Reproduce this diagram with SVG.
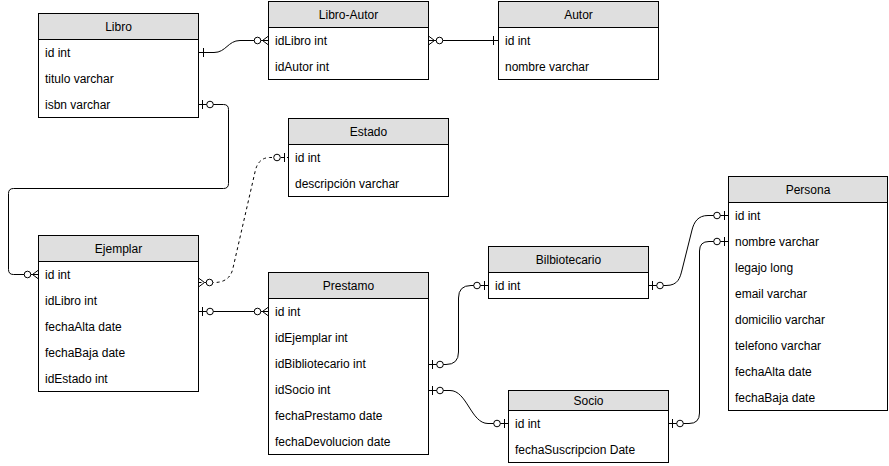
<svg xmlns="http://www.w3.org/2000/svg" width="889" height="466" viewBox="0 0 889 466">
<style>
.box{fill:#fff;stroke:#000;stroke-width:1}
.hdr{fill:#dfdfdf;stroke:#000;stroke-width:1}
.t{font-family:"Liberation Sans",Arial,sans-serif;font-size:12px;fill:#000}
.h{text-anchor:middle}
.c{fill:none;stroke:#000;stroke-width:1}
.d{stroke-dasharray:3 3}
</style>
<defs>
<marker id="zm" markerUnits="userSpaceOnUse" orient="auto-start-reverse" refX="0" refY="0" markerWidth="1" markerHeight="1" overflow="visible">
<path d="M0,-4.5 L-6,0 L0,4.5" fill="none" stroke="#000" stroke-width="1"/>
<circle cx="-11" cy="0" r="3.3" fill="#fff" stroke="#000" stroke-width="1"/>
</marker>
<marker id="zo" markerUnits="userSpaceOnUse" orient="auto-start-reverse" refX="0" refY="0" markerWidth="1" markerHeight="1" overflow="visible">
<path d="M-4,-4.5 V4.5" fill="none" stroke="#000" stroke-width="1"/>
<circle cx="-11.5" cy="0" r="3.3" fill="#fff" stroke="#000" stroke-width="1"/>
</marker>
<marker id="one" markerUnits="userSpaceOnUse" orient="auto-start-reverse" refX="0" refY="0" markerWidth="1" markerHeight="1" overflow="visible">
<path d="M-5,-4.5 V4.5" fill="none" stroke="#000" stroke-width="1"/>
</marker>
</defs>

<g id="connectors">
<path class="c" d="M198.5,52.5 H214 C226,52.5 228,40.5 240,40.5 H268.5" marker-start="url(#one)" marker-end="url(#zm)"/>
<path class="c" d="M428.5,40.5 H498.5" marker-start="url(#zm)" marker-end="url(#one)"/>
<path class="c" d="M198.5,104.5 H223.5 Q228.5,104.5 228.5,109.5 V183.5 Q228.5,188.5 223.5,188.5 H13.5 Q8.5,188.5 8.5,193.5 V269.5 Q8.5,274.5 13.5,274.5 H38.5" marker-start="url(#zo)" marker-end="url(#zm)"/>
<path class="c d" d="M198.5,282.5 H214 Q230,282.5 233,268 L255,172 Q258,157.5 270,157.5 H288.5" marker-start="url(#zm)" marker-end="url(#zo)"/>
<path class="c" d="M198.5,311.5 H268.5" marker-start="url(#zo)" marker-end="url(#zm)"/>
<path class="c" d="M428.5,364.5 H446 Q458.5,364.5 458.5,352 V298 Q458.5,285.5 471,285.5 H488.5" marker-start="url(#zo)" marker-end="url(#zo)"/>
<path class="c" d="M428.5,390.5 H450 C467,390.5 471,423.5 488,423.5 H508.5" marker-start="url(#zo)" marker-end="url(#zo)"/>
<path class="c" d="M648.5,285.5 H666 C678,285.5 680,278 682,270 L692,230 C694,222 698,215.5 708,215.5 H728.5" marker-start="url(#zo)" marker-end="url(#zo)"/>
<path class="c" d="M668.5,423.5 H689 Q699.5,423.5 699.5,413 V251 Q699.5,241.5 709,241.5 H728.5" marker-start="url(#zo)" marker-end="url(#zo)"/>
</g>

<g id="libro">
<rect class="box" x="38.5" y="13.5" width="160" height="104"/>
<rect class="hdr" x="38.5" y="13.5" width="160" height="26"/>
<text class="t h" x="118.5" y="30.5">Libro</text>
<text class="t" x="45" y="56.5">id int</text>
<text class="t" x="45" y="82.5">titulo varchar</text>
<text class="t" x="45" y="108.5">isbn varchar</text>
</g>

<g id="libro-autor">
<rect class="box" x="268.5" y="1.5" width="160" height="78"/>
<rect class="hdr" x="268.5" y="1.5" width="160" height="26"/>
<text class="t h" x="348.5" y="18.5">Libro-Autor</text>
<text class="t" x="275" y="44.5">idLibro int</text>
<text class="t" x="275" y="70.5">idAutor int</text>
</g>

<g id="autor">
<rect class="box" x="498.5" y="1.5" width="160" height="78"/>
<rect class="hdr" x="498.5" y="1.5" width="160" height="26"/>
<text class="t h" x="578.5" y="18.5">Autor</text>
<text class="t" x="505" y="44.5">id int</text>
<text class="t" x="505" y="70.5">nombre varchar</text>
</g>

<g id="estado">
<rect class="box" x="288.5" y="118.5" width="160" height="78"/>
<rect class="hdr" x="288.5" y="118.5" width="160" height="26"/>
<text class="t h" x="368.5" y="135.5">Estado</text>
<text class="t" x="295" y="161.5">id int</text>
<text class="t" x="295" y="187.5">descripción varchar</text>
</g>

<g id="ejemplar">
<rect class="box" x="38.5" y="235.5" width="160" height="156"/>
<rect class="hdr" x="38.5" y="235.5" width="160" height="26"/>
<text class="t h" x="118.5" y="252.5">Ejemplar</text>
<text class="t" x="45" y="278.5">id int</text>
<text class="t" x="45" y="304.5">idLibro int</text>
<text class="t" x="45" y="330.5">fechaAlta date</text>
<text class="t" x="45" y="356.5">fechaBaja date</text>
<text class="t" x="45" y="382.5">idEstado int</text>
</g>

<g id="prestamo">
<rect class="box" x="268.5" y="272.5" width="160" height="182"/>
<rect class="hdr" x="268.5" y="272.5" width="160" height="26"/>
<text class="t h" x="348.5" y="289.5">Prestamo</text>
<text class="t" x="275" y="315.5">id int</text>
<text class="t" x="275" y="341.5">idEjemplar int</text>
<text class="t" x="275" y="367.5">idBibliotecario int</text>
<text class="t" x="275" y="393.5">idSocio int</text>
<text class="t" x="275" y="419.5">fechaPrestamo date</text>
<text class="t" x="275" y="445.5">fechaDevolucion date</text>
</g>

<g id="bilbiotecario">
<rect class="box" x="488.5" y="246.5" width="160" height="52"/>
<rect class="hdr" x="488.5" y="246.5" width="160" height="26"/>
<text class="t h" x="568.5" y="263.5">Bilbiotecario</text>
<text class="t" x="495" y="289.5">id int</text>
</g>

<g id="socio">
<rect class="box" x="508.5" y="390.5" width="160" height="72"/>
<rect class="hdr" x="508.5" y="390.5" width="160" height="20"/>
<text class="t h" x="588.5" y="404.5">Socio</text>
<text class="t" x="515" y="427.5">id int</text>
<text class="t" x="515" y="453.5">fechaSuscripcion Date</text>
</g>

<g id="persona">
<rect class="box" x="728.5" y="176.5" width="159" height="234"/>
<rect class="hdr" x="728.5" y="176.5" width="159" height="26"/>
<text class="t h" x="808" y="193.5">Persona</text>
<text class="t" x="735" y="219.5">id int</text>
<text class="t" x="735" y="245.5">nombre varchar</text>
<text class="t" x="735" y="271.5">legajo long</text>
<text class="t" x="735" y="297.5">email varchar</text>
<text class="t" x="735" y="323.5">domicilio varchar</text>
<text class="t" x="735" y="349.5">telefono varchar</text>
<text class="t" x="735" y="375.5">fechaAlta date</text>
<text class="t" x="735" y="401.5">fechaBaja date</text>
</g>
</svg>
